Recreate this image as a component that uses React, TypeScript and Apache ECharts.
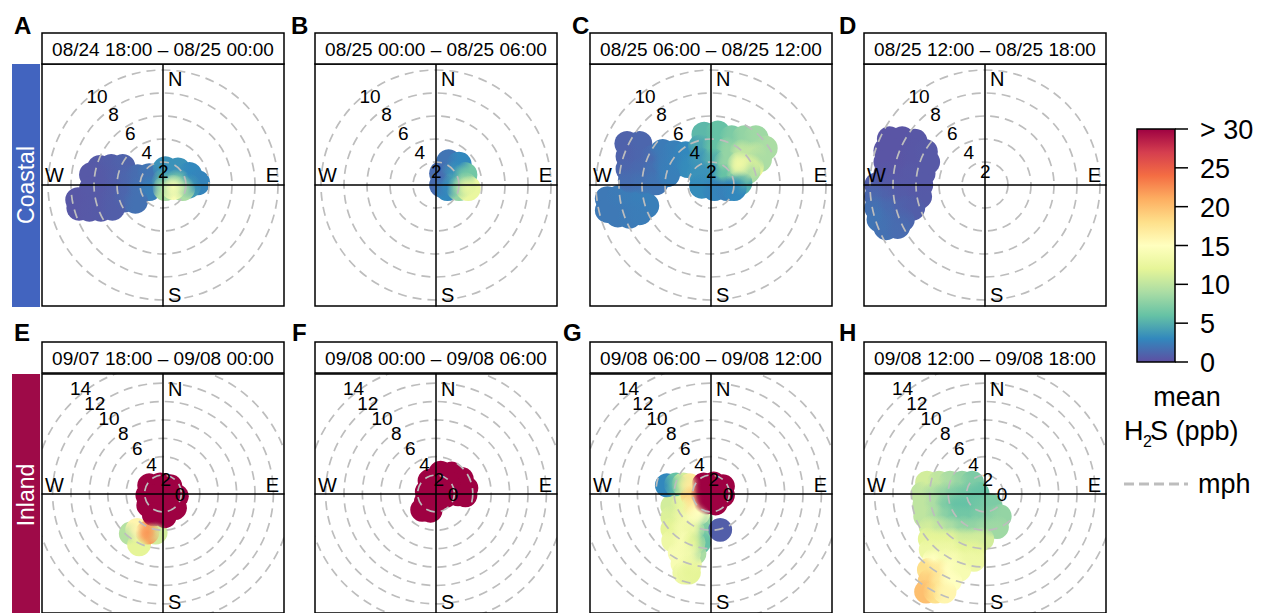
import { useEffect, useRef } from 'react';
import * as echarts from 'echarts';

const FONT = '"Liberation Sans", Arial, Helvetica, sans-serif';

// openair default palette (reversed brewer Spectral)
const SPECTRAL = ['#5E4FA2', '#3288BD', '#66C2A5', '#ABDDA4', '#E6F598', '#FFFFBF', '#FEE08B', '#FDAE61', '#F46D43', '#D53E4F', '#9E0142'];

const panelLetters = ['A', 'B', 'C', 'D', 'E', 'F', 'G', 'H'];
const panelTitles = [
  '08/24 18:00 – 08/25 00:00',
  '08/25 00:00 – 08/25 06:00',
  '08/25 06:00 – 08/25 12:00',
  '08/25 12:00 – 08/25 18:00',
  '09/07 18:00 – 09/08 00:00',
  '09/08 00:00 – 09/08 06:00',
  '09/08 06:00 – 09/08 12:00',
  '09/08 12:00 – 09/08 18:00',
];
const siteNames = ['Coastal', 'Inland'];
const siteColors = ['#4264BF', '#9E0A48'];
const speedRingsCoastal = [2, 4, 6, 8, 10];
const speedRingsInland = [2, 4, 6, 8, 10, 12, 14];
const speedLabelsCoastal = [2, 4, 6, 8, 10];
const speedLabelsInland = [0, 2, 4, 6, 8, 10, 12, 14];
const colorTicks = [0, 5, 10, 15, 20, 25, 30];
const colorTickLabels = ['0', '5', '10', '15', '20', '25', '> 30'];
const colorMax = 30;

// blob points: [u (east component, mph), v (north component, mph), mean H2S (ppb)]
const blobA = [
  [-5.5, 1.5, 0.6], [-4.5, 1.6, 0.8], [-3.5, 1.6, 1.0],
  [-6.2, 0.9, 0.5], [-5.2, 0.7, 0.6], [-4.2, 0.7, 0.8], [-3.2, 0.7, 1.2], [-2.2, 0.7, 1.6], [-1.2, 0.8, 2.0],
  [-6.2, -0.3, 0.5], [-5.2, -0.3, 0.6], [-4.2, -0.3, 0.8], [-3.2, -0.3, 1.2], [-2.2, -0.3, 1.8], [-1.2, -0.3, 2.5],
  [-7.4, -1.3, 0.4], [-6.4, -1.3, 0.5], [-5.4, -1.3, 0.6], [-4.4, -1.3, 0.8], [-3.4, -1.3, 1.2], [-2.4, -1.4, 1.8],
  [-7.3, -2.0, 0.4], [-6.4, -2.1, 0.5], [-5.4, -2.1, 0.6], [-4.4, -2.0, 0.8],
  [0.2, 1.4, 3.5], [1.3, 1.3, 3.5], [2.3, 0.9, 3.0], [3.0, 0.2, 2.8],
  [0.1, 0.3, 5.0], [1.3, 0.3, 7.0], [2.2, -0.1, 4.0],
  [0.2, -0.3, 9.0], [1.7, -0.3, 9.0], [0.9, -0.2, 14.0],
];
const blobB = [
  [1.1, 2.0, 2.0], [2.0, 1.8, 3.0], [0.5, 1.0, 1.5], [1.5, 1.0, 3.5], [2.5, 0.9, 6.5],
  [0.5, 0.0, 1.5], [1.5, 0.0, 5.0], [1.0, -0.3, 3.0], [2.0, -0.3, 8.0], [2.5, 0.0, 9.0], [2.8, -0.3, 12.5],
];
const blobC = [
  [-9.0, -1.2, 2.2], [-8.0, -1.1, 2.3], [-7.0, -1.1, 2.4], [-6.0, -1.1, 2.5], [-5.6, -1.8, 2.5],
  [-9.0, -2.2, 2.2], [-8.1, -2.6, 2.2], [-7.1, -2.7, 2.3], [-6.2, -2.4, 2.4],
  [-7.3, 3.6, 1.0], [-6.2, 3.6, 1.2], [-7.2, 2.5, 1.0], [-6.1, 2.5, 1.2], [-5.1, 2.4, 1.5],
  [-7.2, 1.4, 1.2], [-6.1, 1.3, 1.4], [-5.0, 1.2, 1.8], [-7.0, 0.4, 1.6], [-6.0, 0.3, 1.8], [-4.8, 0.2, 2.0],
  [-4.2, 2.9, 2.3], [-3.2, 2.8, 2.6], [-2.2, 2.7, 3.0], [-4.0, 1.8, 2.4], [-3.0, 1.8, 2.7], [-2.0, 1.7, 3.2], [-3.8, 0.9, 2.5],
  [-0.6, 4.4, 5.5], [0.6, 4.5, 6.0], [1.8, 4.1, 7.0], [2.9, 4.1, 8.0], [3.9, 4.1, 8.5], [4.7, 3.2, 9.0],
  [-0.9, 3.3, 4.5], [0.3, 3.3, 6.0], [1.5, 3.1, 8.0], [2.7, 2.9, 10.0], [3.8, 2.7, 10.0], [4.2, 2.2, 9.0],
  [-1.0, 2.2, 3.8], [0.2, 2.1, 5.0], [1.3, 1.9, 8.0], [3.5, 1.6, 12.0], [3.2, 1.2, 9.0],
  [-1.0, 1.1, 3.5], [0.0, 0.9, 3.5], [1.2, 0.8, 6.0], [2.4, 0.7, 9.0], [2.5, 0.2, 5.0],
  [-0.8, -0.1, 3.2], [0.3, -0.3, 2.8], [1.4, -0.3, 2.6], [2.0, -0.3, 3.0],
  [2.5, 1.8, 13.0],
];
const blobD = [
  [-8.3, 4.0, 0.3], [-7.2, 4.0, 0.3], [-6.1, 3.8, 0.4],
  [-8.6, 3.0, 0.3], [-7.5, 3.0, 0.3], [-6.4, 3.0, 0.4], [-5.2, 2.9, 0.5],
  [-8.6, 2.0, 0.3], [-7.5, 2.0, 0.3], [-6.4, 2.0, 0.4], [-5.0, 2.0, 0.5],
  [-8.6, 1.0, 0.4], [-7.5, 1.0, 0.4], [-6.4, 1.0, 0.5], [-5.4, 1.0, 0.5],
  [-9.4, 0.0, 0.8], [-8.4, 0.0, 0.6], [-7.4, 0.0, 0.5], [-6.3, 0.0, 0.5], [-5.6, 0.0, 0.5],
  [-9.4, -1.0, 1.3], [-8.4, -1.0, 1.0], [-7.4, -1.0, 0.7], [-5.7, -1.0, 0.6],
  [-9.4, -2.0, 1.8], [-8.3, -2.0, 1.4], [-7.2, -2.0, 1.0], [-6.3, -2.0, 0.8],
  [-9.2, -3.0, 2.0], [-8.2, -3.0, 1.6], [-7.2, -3.0, 1.2],
  [-8.6, -3.7, 1.8], [-7.6, -3.6, 1.5],
];
const blobE = [
  [-3.5, -4.4, 9.5], [-0.8, -4.3, 11.0], [-2.6, -5.6, 12.0], [-2.8, -4.0, 16.0], [-1.7, -4.3, 22.0],
  [-1.5, 0.9, 35], [-0.3, 1.0, 35], [0.8, 0.8, 35], [-1.7, -0.2, 35], [-0.5, -0.2, 35], [0.7, -0.2, 35], [1.5, -0.3, 35],
  [-1.6, -1.3, 35], [-0.4, -1.3, 35], [0.8, -1.3, 35], [1.3, -1.6, 35], [-1.0, -2.3, 35], [0.2, -2.5, 35],
];
const blobF = [
  [0.5, 2.3, 35], [1.7, 2.2, 35], [2.8, 1.6, 35],
  [-0.7, 1.4, 35], [0.5, 1.2, 35], [1.7, 1.0, 35], [3.3, 0.6, 35],
  [-1.0, 0.2, 35], [0.2, 0.0, 35], [1.4, 0.0, 35], [2.4, -0.1, 35], [3.2, -0.2, 35],
  [-1.1, -0.9, 35], [0.1, -0.7, 35], [1.0, -0.3, 35],
  [-1.5, -1.8, 35], [-0.6, -1.9, 35],
];
const blobG = [
  [-1.1, -2.7, 8.0], [-1.2, -4.2, 7.0], [-1.3, -5.4, 6.0], [-1.8, -6.6, 9.0],
  [-4.2, -1.4, 11.0], [-3.1, -1.4, 12.5],
  [-4.2, -2.6, 11.5], [-3.1, -2.6, 13.0], [-2.0, -2.7, 14.0],
  [-4.2, -3.9, 12.0], [-3.1, -3.9, 13.5], [-2.0, -4.0, 13.0],
  [-4.1, -5.2, 13.0], [-3.0, -5.3, 14.0], [-1.9, -5.4, 12.0],
  [-3.4, -6.5, 14.0], [-2.4, -6.6, 13.5],
  [-3.1, -7.7, 14.0], [-2.3, -7.8, 13.0],
  [-2.9, -8.7, 13.0], [-2.4, -8.7, 12.0],
  [-4.8, 0.9, 3.0], [-3.8, 1.0, 6.0], [-3.0, 1.0, 11.0], [-2.3, 0.9, 17.0],
  [-2.0, -0.3, 19.0], [-1.9, -1.4, 17.0], [-1.4, -2.2, 15.0],
  [1.0, -4.0, 0.8],
  [-0.8, 1.0, 35], [0.3, 1.1, 35], [1.3, 0.8, 35], [-0.9, -0.1, 35], [0.2, 0.0, 35], [1.3, -0.2, 35],
  [-0.6, -1.0, 35], [0.5, -1.1, 35],
];
const blobH = [
  [-6.3, 1.2, 11.0], [-5.0, 1.2, 10.0], [-3.8, 1.2, 9.0], [-2.5, 1.2, 8.0], [-1.4, 1.2, 7.0],
  [-6.8, 0.0, 10.0], [-5.6, 0.0, 9.0], [-4.4, 0.0, 8.0], [-3.2, 0.0, 7.0], [-2.0, 0.0, 6.5], [-0.8, 0.0, 6.0],
  [-6.6, -1.3, 10.0], [-5.4, -1.3, 9.0], [-4.2, -1.3, 7.0], [-3.0, -1.3, 6.0], [-1.8, -1.3, 6.0], [-0.6, -1.3, 6.5], [0.6, -1.3, 7.0],
  [-6.5, -2.5, 10.0], [-5.3, -2.5, 9.0], [-4.1, -2.5, 7.5], [-2.9, -2.5, 6.5], [-1.7, -2.5, 6.5], [-0.5, -2.5, 7.0], [0.6, -2.5, 7.5], [1.6, -2.5, 8.0],
  [-5.9, -3.7, 11.0], [-4.7, -3.7, 10.0], [-3.5, -3.7, 9.0], [-2.3, -3.7, 8.0], [-1.1, -3.7, 8.0], [0.1, -3.7, 8.5], [1.3, -3.7, 8.5],
  [-6.0, -5.0, 12.0], [-4.8, -5.0, 12.0], [-3.6, -5.0, 12.0], [-2.4, -5.0, 11.0], [-1.2, -5.0, 11.0], [-0.3, -5.0, 11.0],
  [-5.9, -6.2, 13.0], [-4.7, -6.2, 13.0], [-3.5, -6.2, 13.0], [-2.3, -6.2, 12.0], [-1.2, -6.2, 12.0],
  [-5.5, -7.3, 15.0], [-4.3, -7.3, 14.0], [-3.1, -7.3, 14.0], [-2.0, -7.3, 13.0], [-1.2, -7.3, 13.0],
  [-6.1, -8.4, 18.0], [-5.0, -8.4, 17.0], [-3.8, -8.4, 15.0], [-2.8, -8.4, 14.0],
  [-6.0, -9.6, 19.0], [-4.9, -9.6, 17.0], [-3.8, -9.6, 15.0],
  [-6.4, -10.8, 20.0], [-5.4, -10.8, 18.0], [-4.4, -10.8, 16.0],
];
const BLOBS = [blobA, blobB, blobC, blobD, blobE, blobF, blobG, blobH];

// layout (pixels)
const COL_LEFT = [42, 315, 590, 864];
const LETTER_X = [[14, 291, 572, 839], [14, 292, 563, 839]];
const LETTER_Y = [25, 332];
const PLOT = 242;
const HEADER_TOP = [33, 342];
const HEADER_H = 31;
const PLOT_TOP = [64, 374];
const PX_PER_MPH = [11.5, 9.2];
const BLOB_R = [1.1, 1.3];
const LABEL_LINE = [
  { x0: 17, dx: -8.3, y0: 5, dy: -9.4 },
  { x0: 17, dx: -7.1, y0: 1, dy: -7.7 },
];

function txt(text: string, x: number, y: number, size: number, align: string, valign: string, extra: any = {}) {
  const { bold, fill, ...rest } = extra;
  return {
    type: 'text',
    x,
    y,
    z: 10,
    silent: true,
    ...rest,
    style: {
      text,
      font: `${bold ? 'bold ' : ''}${size}px ${FONT}`,
      fill: fill || '#000',
      align,
      verticalAlign: valign,
      textAlign: align,
      textVerticalAlign: valign,
    },
  };
}

function buildOption() {
  const grid: any[] = [];
  const xAxis: any[] = [];
  const yAxis: any[] = [];
  const series: any[] = [];
  const graphic: any[] = [];
  const blobSeries: number[] = [];

  for (let p = 0; p < 8; p++) {
    const row = p < 4 ? 0 : 1;
    const col = p % 4;
    const k = PX_PER_MPH[row];
    const R = PLOT / 2 / k;
    const left = COL_LEFT[col];
    const top = PLOT_TOP[row];
    grid.push({ left, top, width: PLOT, height: PLOT, show: true, borderColor: '#000', borderWidth: 1.5, backgroundColor: 'rgba(0,0,0,0)', z: 6 });
    const axis = {
      gridIndex: p,
      type: 'value',
      min: -R,
      max: R,
      z: 5,
      axisLine: { show: true, onZero: true, lineStyle: { color: '#000', width: 1.5 } },
      axisTick: { show: false },
      axisLabel: { show: false },
      splitLine: { show: false },
    };
    xAxis.push({ ...axis });
    yAxis.push({ ...axis });

    const br = BLOB_R[row];
    const blobData = BLOBS[p].map((d) => [d[0], d[1], Math.min(d[2], colorMax)]);
    // opaque layer: defines the blob outline
    blobSeries.push(series.length);
    series.push({
      type: 'custom',
      name: 'blob' + panelLetters[p],
      xAxisIndex: p,
      yAxisIndex: p,
      clip: true,
      silent: true,
      z: 2,
      data: blobData,
      renderItem: (params: any, api: any) => {
        const c = api.coord([api.value(0), api.value(1)]);
        const s = api.size([br, br]);
        return { type: 'circle', shape: { cx: c[0], cy: c[1], r: s[0] }, style: { fill: api.visual('color'), stroke: null, lineWidth: 0 } };
      },
    });
    // soft layer: blends neighbouring colours inside the blob
    blobSeries.push(series.length);
    series.push({
      type: 'custom',
      name: 'blobSoft' + panelLetters[p],
      xAxisIndex: p,
      yAxisIndex: p,
      clip: true,
      silent: true,
      z: 2,
      data: blobData,
      renderItem: (params: any, api: any) => {
        const c = api.coord([api.value(0), api.value(1)]);
        const s = api.size([br, br]);
        const col0 = api.visual('color');
        const grad = new echarts.graphic.RadialGradient(0.5, 0.5, 0.5, [
          { offset: 0, color: echarts.color.modifyAlpha(col0, 1) },
          { offset: 0.45, color: echarts.color.modifyAlpha(col0, 0.7) },
          { offset: 1, color: echarts.color.modifyAlpha(col0, 0) },
        ]);
        return { type: 'circle', shape: { cx: c[0], cy: c[1], r: s[0] * 0.98 }, style: { fill: grad, stroke: null, lineWidth: 0 } };
      },
    });

    const rings = row === 0 ? speedRingsCoastal : speedRingsInland;
    series.push({
      type: 'custom',
      name: 'rings' + panelLetters[p],
      xAxisIndex: p,
      yAxisIndex: p,
      clip: true,
      silent: true,
      z: 3,
      data: rings.map((r) => [r, 0]),
      renderItem: (params: any, api: any) => {
        const c = api.coord([0, 0]);
        const r = api.size([api.value(0), 0])[0];
        return {
          type: 'circle',
          shape: { cx: c[0], cy: c[1], r },
          style: { fill: 'none', stroke: '#BDBDBD', lineWidth: 1.7, lineDash: [9, 6] },
        };
      },
    });

    const labels = row === 0 ? speedLabelsCoastal : speedLabelsInland;
    const L = LABEL_LINE[row];
    series.push({
      type: 'custom',
      name: 'ringLabels' + panelLetters[p],
      xAxisIndex: p,
      yAxisIndex: p,
      silent: true,
      z: 7,
      data: labels.map((v) => [(L.x0 + L.dx * v) / k, -(L.y0 + L.dy * v) / k, v]),
      renderItem: (params: any, api: any) => {
        const c = api.coord([api.value(0), api.value(1)]);
        return {
          type: 'text',
          x: c[0],
          y: c[1],
          style: {
            text: String(api.value(2)),
            font: `19px ${FONT}`,
            fill: '#000',
            align: 'center',
            verticalAlign: 'middle',
            textAlign: 'center',
            textVerticalAlign: 'middle',
          },
        };
      },
    });

    // header strip
    graphic.push({
      type: 'rect',
      z: 9,
      silent: true,
      shape: { x: left, y: HEADER_TOP[row], width: PLOT, height: HEADER_H },
      style: { fill: '#fff', stroke: '#000', lineWidth: 1.5 },
    });
    graphic.push(txt(panelTitles[p], left + PLOT / 2, HEADER_TOP[row] + HEADER_H / 2 + 0.5, 19, 'center', 'middle'));
    graphic.push(txt(panelLetters[p], LETTER_X[row][col], LETTER_Y[row], 24, 'left', 'middle', { bold: true }));

    const cx = left + PLOT / 2;
    const cy = top + PLOT / 2;
    graphic.push(txt('N', cx + 5, top + 14.5, 20, 'left', 'middle'));
    graphic.push(txt('S', cx + 5, row === 0 ? top + 230.5 : top + 228, 20, 'left', 'middle'));
    graphic.push(txt('W', left + 3, cy - 10, 20, 'left', 'middle'));
    graphic.push(txt('E', left + PLOT - 5, cy - 10, 20, 'right', 'middle'));
  }

  // site strips
  for (let r = 0; r < 2; r++) {
    graphic.push({
      type: 'rect',
      silent: true,
      shape: { x: 12, y: PLOT_TOP[r], width: 28, height: r === 0 ? 243 : 260 },
      style: { fill: siteColors[r] },
    });
    graphic.push(txt(siteNames[r], 26, PLOT_TOP[r] + PLOT / 2, 23, 'center', 'middle', { rotation: Math.PI / 2, fill: '#fff' }));
  }

  // colour key
  const barX = 1137, barTop = 129, barBottom = 362, barW = 38;
  const yOf = (v: number) => barBottom - (v / colorMax) * (barBottom - barTop);
  graphic.push({
    type: 'rect',
    silent: true,
    shape: { x: barX, y: barTop, width: barW, height: barBottom - barTop },
    style: {
      fill: new echarts.graphic.LinearGradient(0, 1, 0, 0, SPECTRAL.map((c, i) => ({ offset: i / (SPECTRAL.length - 1), color: c }))),
      stroke: '#000',
      lineWidth: 1.5,
    },
  });
  colorTicks.forEach((v, i) => {
    const y = yOf(v);
    graphic.push({ type: 'line', silent: true, shape: { x1: barX + barW, y1: y, x2: barX + barW + 13, y2: y }, style: { stroke: '#000', lineWidth: 1.5 } });
    graphic.push(txt(colorTickLabels[i], 1200, y + 1, 27, 'left', 'middle'));
  });
  graphic.push(txt('mean', 1187, 397, 27, 'center', 'middle'));
  graphic.push(txt('H', 1124, 431, 27, 'left', 'middle'));
  graphic.push(txt('2', 1143, 441, 16, 'left', 'middle'));
  graphic.push(txt('S (ppb)', 1150, 431, 27, 'left', 'middle'));
  graphic.push({ type: 'line', silent: true, shape: { x1: 1124, y1: 484, x2: 1188, y2: 484 }, style: { stroke: '#BDBDBD', lineWidth: 3, lineDash: [10, 5] } });
  graphic.push(txt('mph', 1198, 484, 27, 'left', 'middle'));

  return {
    animation: false,
    backgroundColor: '#fff',
    grid,
    xAxis,
    yAxis,
    visualMap: {
      type: 'continuous',
      show: false,
      min: 0,
      max: colorMax,
      dimension: 2,
      seriesIndex: blobSeries,
      inRange: { color: SPECTRAL },
    },
    series,
    graphic: { elements: graphic },
  };
}

export default function App() {
  const ref = useRef<HTMLDivElement>(null);
  useEffect(() => {
    const chart = echarts.init(ref.current as HTMLDivElement, null, { renderer: 'svg' });
    chart.setOption(buildOption() as any);
    return () => chart.dispose();
  }, []);
  return <div ref={ref} style={{ position: 'absolute', left: 0, top: 0, width: 1265, height: 613, background: '#fff' }} />;
}
